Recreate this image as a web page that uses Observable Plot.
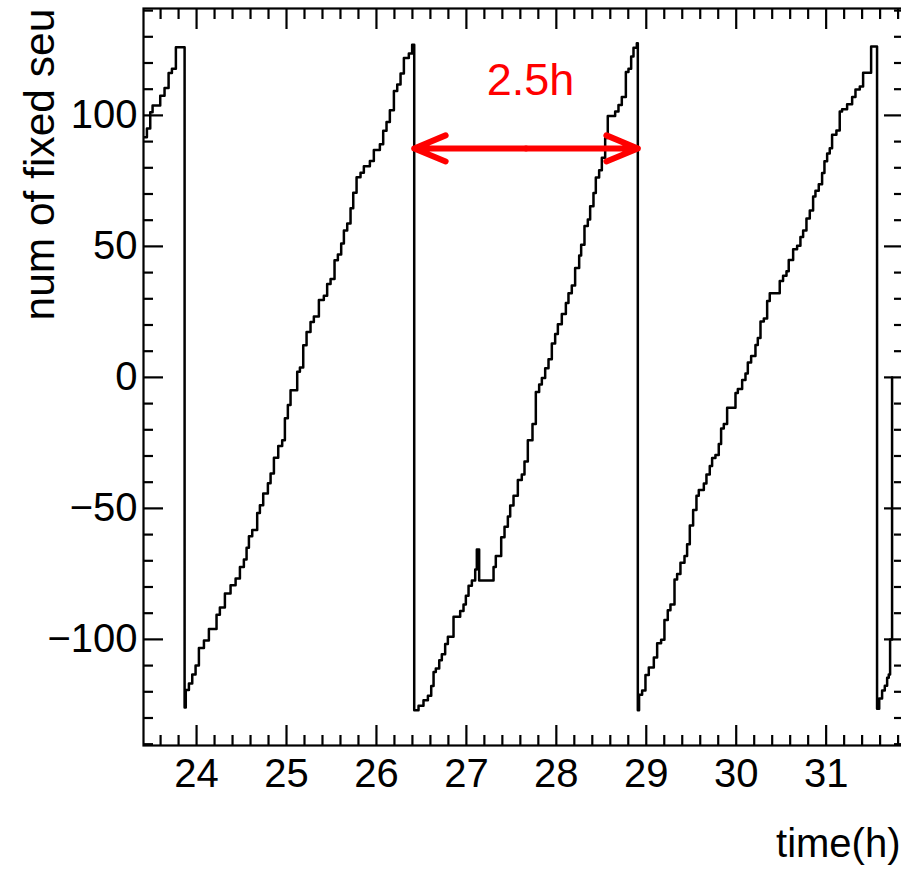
<!DOCTYPE html>
<html><head><meta charset="utf-8">
<script src="https://cdn.jsdelivr.net/npm/d3@7"></script>
<script src="https://cdn.jsdelivr.net/npm/@observablehq/plot@0.6"></script>
<style>
html,body{margin:0;padding:0;background:#fff;overflow:hidden;}
#chart svg{max-width:none;display:block;}
</style></head><body><div id="chart"></div>
<script>
// time in hours (start of each step)
const timeH = [
  23.410,23.448,23.485,23.511,23.596,23.644,23.689,23.726,23.770,
  23.867,23.880,23.915,23.952,23.989,24.026,24.082,24.137,24.222,24.259,24.315,24.378,24.434,24.482,24.526,24.556,24.582,24.619,24.674,24.704,24.741,24.793,24.823,24.860,24.908,24.952,24.982,25.015,25.045,25.119,25.149,25.186,25.223,25.267,25.304,25.360,25.415,25.452,25.490,25.534,25.571,25.608,25.638,25.675,25.712,25.742,25.779,25.823,25.860,25.927,25.971,26.038,26.075,26.112,26.149,26.194,26.231,26.268,26.305,26.360,26.397,
  26.420,26.468,26.523,26.572,26.609,26.635,26.660,26.698,26.727,26.764,26.794,26.857,26.931,26.968,26.994,27.024,27.061,27.098,27.116,27.142,27.302,27.327,27.387,27.424,27.461,27.487,27.524,27.572,27.616,27.646,27.683,27.735,27.772,27.809,27.839,27.876,27.913,27.950,27.987,28.017,28.061,28.106,28.135,28.172,28.209,28.254,28.276,28.313,28.350,28.376,28.413,28.439,28.476,28.506,28.543,28.572,28.654,28.691,28.728,28.773,28.802,28.832,28.858,28.895,
  28.906,28.920,28.954,28.991,29.028,29.084,29.121,29.165,29.202,29.239,29.269,29.314,29.343,29.380,29.425,29.454,29.484,29.521,29.558,29.584,29.640,29.669,29.706,29.732,29.769,29.806,29.832,29.862,29.899,29.992,30.018,30.066,30.103,30.129,30.166,30.214,30.240,30.270,30.307,30.344,30.373,30.484,30.521,30.559,30.584,30.633,30.677,30.714,30.744,30.781,30.818,30.855,30.881,30.918,30.955,30.981,31.011,31.040,31.066,31.114,31.151,31.177,31.233,31.289,31.326,31.374,31.411,31.500,
  31.566,31.590,31.622,31.652,31.678,31.696,31.711,31.733
];
// number of fixed SEUs (value of each step)
const nFixed = [
  91.7,95.0,101.2,103.8,107.5,110.5,116.2,117.8,126.0,
  -126.0,-119.3,-116.8,-113.4,-110.0,-103.3,-100.4,-96.0,-90.6,-87.8,-82.5,-79.3,-76.8,-72.4,-69.5,-65.0,-60.6,-58.2,-51.8,-48.8,-44.3,-40.4,-36.7,-30.7,-26.2,-24.0,-15.6,-10.5,-4.9,2.2,3.8,12.3,17.3,21.1,23.2,29.5,31.2,35.6,37.6,44.7,46.9,51.1,56.1,58.7,64.6,70.5,76.4,78.1,80.6,82.6,86.8,89.0,94.1,97.5,102.0,109.3,111.8,116.0,121.9,123.6,127.0,
  -127.0,-125.3,-123.2,-121.5,-117.8,-112.4,-111.1,-108.0,-105.7,-101.8,-99.0,-91.4,-89.2,-86.7,-83.3,-79.5,-77.5,-73.3,-65.7,-77.5,-72.4,-68.2,-61.0,-57.0,-53.1,-48.9,-45.2,-39.2,-37.1,-32.1,-24.0,-17.8,-5.6,-2.7,-0.2,3.5,6.9,12.9,16.6,20.3,24.2,28.4,32.1,35.1,41.8,46.5,50.6,57.8,60.3,65.3,70.4,76.3,79.1,83.8,91.4,99.8,101.5,104.0,107.0,116.6,117.8,122.5,125.8,127.5,
  -127.0,-121.1,-119.5,-113.6,-110.7,-106.9,-101.5,-100.1,-92.6,-88.9,-86.7,-77.1,-75.0,-70.7,-68.2,-63.7,-56.5,-50.6,-45.2,-43.0,-40.5,-37.1,-33.8,-30.8,-29.6,-25.4,-19.5,-17.8,-11.6,-6.0,-4.4,-1.0,1.5,5.7,8.2,12.4,15.0,21.3,22.5,29.2,32.1,36.8,38.8,40.5,44.8,48.9,50.2,53.6,56.1,60.6,63.7,69.0,71.2,73.7,78.0,82.5,85.5,87.5,92.6,94.2,101.5,102.3,104.3,107.0,109.9,111.0,116.3,126.3,
  -126.5,-122.6,-119.5,-117.7,-114.6,-113.4,-100.0,0.0
];
const xTickLabels = [24, 25, 26, 27, 28, 29, 30, 31];
const yTickLabels = [-100, -50, 0, 50, 100];
const xTitle = ["time(h)"];
const yTitle = ["num of fixed seu"];
// period annotation
const periodLabel = ["2.5h"];
const periodStart = [26.42];
const periodEnd = [28.906];
const periodLevel = [87.4];
const periodLabelX = [27.714];
const periodLabelY = [107.6];

const data = timeH.map((t, i) => ({t, n: nFixed[i]}));
const xDomain = [23.41, 31.86];
const yDomain = [-140.5, 140.8];
const xMinor = d3.range(234, 319, 2).map(v => v / 10)
  .filter(v => v > xDomain[0] && v < xDomain[1] && !xTickLabels.includes(v));
const yMinor = d3.range(-140, 141, 10).filter(v => v % 50 !== 0);

const mid = (periodStart[0] + periodEnd[0]) / 2;
const arrows = [
  {x1: mid, x2: periodStart[0], y: periodLevel[0]},
  {x1: mid, x2: periodEnd[0], y: periodLevel[0]}
];
const labels = periodLabel.map((s, i) => ({s, x: periodLabelX[i], y: periodLabelY[i]}));

const font = "'Liberation Sans', Arial, Helvetica, sans-serif";
const tk = {stroke: "black", strokeWidth: 2.2, fill: "none", label: null};

const chart = Plot.plot({
  width: 901, height: 869,
  marginTop: 8, marginLeft: 143, marginRight: -2, marginBottom: 124,
  style: {fontFamily: font, background: "white", color: "black"},
  x: {domain: xDomain},
  y: {domain: yDomain},
  marks: [
    Plot.line(data, {x: "t", y: "n", curve: "step-after", stroke: "black", strokeWidth: 2.5, clip: true}),
    Plot.frame({stroke: "black", strokeWidth: 2.2}),
    // major ticks (inward)
    Plot.axisX(xTickLabels, {anchor: "bottom", tickSize: -20, ...tk}),
    Plot.axisX(xTickLabels, {anchor: "top", tickSize: -20, ...tk}),
    Plot.axisY(yTickLabels, {anchor: "left", tickSize: -20, ...tk}),
    Plot.axisY(yTickLabels, {anchor: "right", tickSize: -20, ...tk}),
    // minor ticks
    Plot.axisX(xMinor, {anchor: "bottom", tickSize: -10, ...tk}),
    Plot.axisX(xMinor, {anchor: "top", tickSize: -10, ...tk}),
    Plot.axisY(yMinor, {anchor: "left", tickSize: -10, ...tk}),
    Plot.axisY(yMinor, {anchor: "right", tickSize: -10, ...tk}),
    // tick labels
    Plot.axisX(xTickLabels, {anchor: "bottom", tickSize: 0, tickPadding: 13, fontSize: 40, fill: "black", label: null}),
    Plot.axisY(yTickLabels, {anchor: "left", tickSize: 0, tickPadding: 6, fontSize: 40, fill: "black", label: null}),
    // axis titles
    Plot.text(xTitle, {frameAnchor: "bottom-right", textAnchor: "end", lineAnchor: "bottom", dx: -3, dy: 111, fontSize: 40, fill: "black"}),
    Plot.text(yTitle, {frameAnchor: "top-left", rotate: -90, textAnchor: "start", lineAnchor: "bottom", dx: -90, dy: 312, fontSize: 42.5, fill: "black"}),
    // annotation
    Plot.arrow(arrows, {x1: "x1", x2: "x2", y1: "y", y2: "y", stroke: "red", strokeWidth: 6, headLength: 8.5, headAngle: 45, strokeLinecap: "round", strokeLinejoin: "round"}),
    Plot.text(labels, {x: "x", y: "y", text: "s", fill: "red", fontSize: 45, textAnchor: "middle", lineAnchor: "bottom"})
  ]
});
document.getElementById("chart").append(chart);
</script>
</body></html>
